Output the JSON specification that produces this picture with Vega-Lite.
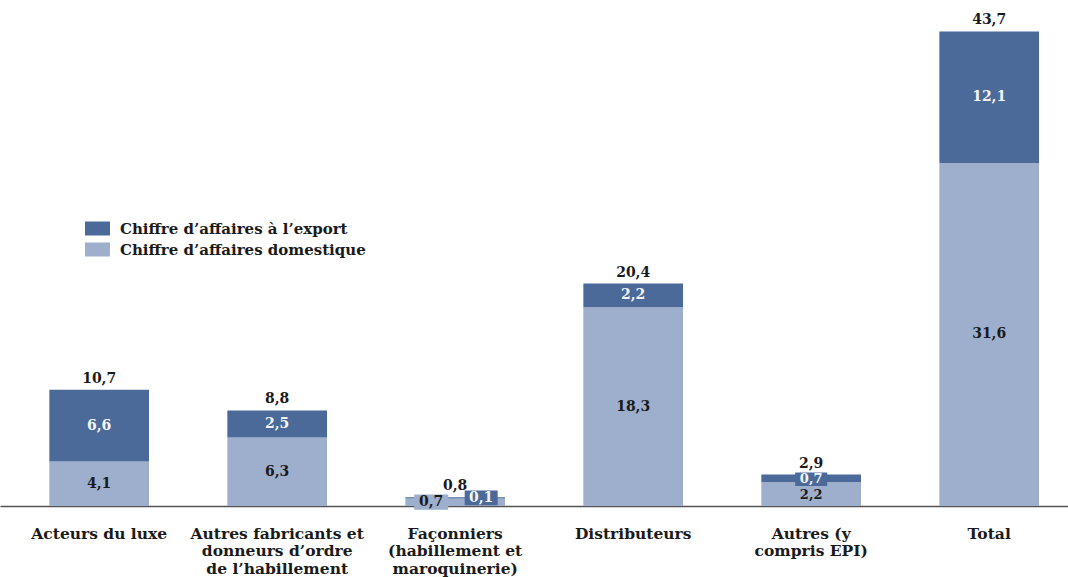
{
  "$schema": "https://vega.github.io/schema/vega-lite/v6.json",
  "width": 1068,
  "height": 506,
  "padding": 0,
  "autosize": {"type": "pad"},
  "background": "white",
  "config": {
    "view": {"stroke": null},
    "font": "DejaVu Serif",
    "locale": {"number": {"decimal": ",", "thousands": " ", "grouping": [3], "currency": ["", " €"]}}
  },
  "datasets": {
    "segments": [
      {"cat": "Acteurs du luxe", "type": "Chiffre d’affaires domestique", "value": 4.1},
      {"cat": "Acteurs du luxe", "type": "Chiffre d’affaires à l’export", "value": 6.6},
      {"cat": "Autres fabricants et|donneurs d’ordre|de l’habillement", "type": "Chiffre d’affaires domestique", "value": 6.3},
      {"cat": "Autres fabricants et|donneurs d’ordre|de l’habillement", "type": "Chiffre d’affaires à l’export", "value": 2.5},
      {"cat": "Façonniers|(habillement et|maroquinerie)", "type": "Chiffre d’affaires domestique", "value": 0.7},
      {"cat": "Façonniers|(habillement et|maroquinerie)", "type": "Chiffre d’affaires à l’export", "value": 0.1},
      {"cat": "Distributeurs", "type": "Chiffre d’affaires domestique", "value": 18.3},
      {"cat": "Distributeurs", "type": "Chiffre d’affaires à l’export", "value": 2.2},
      {"cat": "Autres (y|compris EPI)", "type": "Chiffre d’affaires domestique", "value": 2.2},
      {"cat": "Autres (y|compris EPI)", "type": "Chiffre d’affaires à l’export", "value": 0.7},
      {"cat": "Total", "type": "Chiffre d’affaires domestique", "value": 31.6},
      {"cat": "Total", "type": "Chiffre d’affaires à l’export", "value": 12.1}
    ],
    "totals": [
      {"cat": "Acteurs du luxe", "total": 10.7},
      {"cat": "Autres fabricants et|donneurs d’ordre|de l’habillement", "total": 8.8},
      {"cat": "Façonniers|(habillement et|maroquinerie)", "total": 0.8},
      {"cat": "Distributeurs", "total": 20.4},
      {"cat": "Autres (y|compris EPI)", "total": 2.9},
      {"cat": "Total", "total": 43.7}
    ]
  },
  "data": {"name": "segments"},
  "encoding": {
    "x": {
      "field": "cat",
      "type": "nominal",
      "sort": null,
      "title": null,
      "scale": {"paddingInner": 0.44, "paddingOuter": 0.22, "align": 0.63},
      "axis": {
        "labelExpr": "split(datum.value, '|')",
        "labelAngle": 0,
        "labelFont": "DejaVu Serif",
        "labelFontSize": 15.5,
        "labelFontWeight": "bold",
        "labelColor": "#1a1a1a",
        "labelLineHeight": 17.5,
        "labelPadding": 20,
        "labelBaseline": "top",
        "labelLimit": 0,
        "ticks": false,
        "domainColor": "#555555",
        "domainWidth": 1.5,
        "grid": false
      }
    }
  },
  "layer": [
    {
      "mark": {"type": "bar"},
      "encoding": {
        "y": {"field": "value", "type": "quantitative", "stack": "zero", "scale": {"domain": [0, 46.6], "nice": false}, "axis": null},
        "color": {
          "field": "type",
          "type": "nominal",
          "scale": {"domain": ["Chiffre d’affaires à l’export", "Chiffre d’affaires domestique"], "range": ["#4B6A9A", "#9DAFCD"]},
          "legend": {
            "orient": "none",
            "legendX": 85,
            "legendY": 216,
            "title": null,
            "symbolType": "M-1,-0.56H1V0.56H-1Z",
            "symbolSize": 625,
            "symbolStrokeWidth": 0,
            "symbolOpacity": 1,
            "labelFont": "DejaVu Serif",
            "labelFontSize": 15,
            "labelFontWeight": "bold",
            "labelColor": "#1a1a1a",
            "labelOffset": 10,
            "labelLimit": 0,
            "rowPadding": 0
          }
        },
        "order": {"field": "type", "sort": "ascending"}
      }
    },
    {
      "transform": [
        {"stack": "value", "groupby": ["cat"], "sort": [{"field": "type", "order": "ascending"}], "as": ["v0", "v1"]},
        {"calculate": "(datum.v0 + datum.v1) / 2", "as": "mid"},
        {"filter": "(datum.cat === 'Autres (y|compris EPI)' && indexof(datum.type, 'export') >= 0)"}
      ],
      "mark": {"type": "point", "shape": "M-1,-0.42H1V0.42H-1Z", "size": 1024, "filled": true, "opacity": 1, "color": "#4B6A9A", "yOffset": 1},
      "encoding": {"y": {"field": "mid", "type": "quantitative", "scale": {"domain": [0, 46.6], "nice": false}}}
    },
    {
      "transform": [
        {"stack": "value", "groupby": ["cat"], "sort": [{"field": "type", "order": "ascending"}], "as": ["v0", "v1"]},
        {"calculate": "(datum.v0 + datum.v1) / 2", "as": "mid"},
        {"filter": "(indexof(datum.cat, 'Façonniers') >= 0 && indexof(datum.type, 'export') >= 0)"}
      ],
      "mark": {"type": "point", "shape": "M-1,-0.45H1V0.45H-1Z", "size": 1089, "filled": true, "opacity": 1, "color": "#4B6A9A", "xOffset": 26},
      "encoding": {"y": {"field": "mid", "type": "quantitative", "scale": {"domain": [0, 46.6], "nice": false}}}
    },
    {
      "transform": [
        {"stack": "value", "groupby": ["cat"], "sort": [{"field": "type", "order": "ascending"}], "as": ["v0", "v1"]},
        {"calculate": "(datum.v0 + datum.v1) / 2", "as": "mid"},
        {"filter": "(indexof(datum.cat, 'Façonniers') >= 0 && indexof(datum.type, 'domestique') >= 0)"}
      ],
      "mark": {"type": "point", "shape": "M-1,-0.45H1V0.45H-1Z", "size": 1156, "filled": true, "opacity": 1, "color": "#9DAFCD", "xOffset": -24},
      "encoding": {"y": {"field": "mid", "type": "quantitative", "scale": {"domain": [0, 46.6], "nice": false}}}
    },
    {
      "transform": [
        {"stack": "value", "groupby": ["cat"], "sort": [{"field": "type", "order": "ascending"}], "as": ["v0", "v1"]},
        {"calculate": "(datum.v0 + datum.v1) / 2", "as": "mid"},
        {"filter": "indexof(datum.cat, 'Façonniers') < 0 && indexof(datum.cat, 'Autres (y') < 0"}
      ],
      "mark": {"type": "text", "fontWeight": "bold", "fontSize": 14, "font": "DejaVu Serif"},
      "encoding": {
        "y": {"field": "mid", "type": "quantitative", "scale": {"domain": [0, 46.6], "nice": false}},
        "text": {"field": "value", "type": "quantitative", "format": ".1f"},
        "color": {"condition": {"test": "indexof(datum.type, 'export') >= 0", "value": "#f4f4f4"}, "value": "#1a1a1a"}
      }
    },
    {
      "transform": [
        {"stack": "value", "groupby": ["cat"], "sort": [{"field": "type", "order": "ascending"}], "as": ["v0", "v1"]},
        {"calculate": "(datum.v0 + datum.v1) / 2", "as": "mid"},
        {"filter": "indexof(datum.cat, 'Autres (y') >= 0"}
      ],
      "mark": {"type": "text", "fontWeight": "bold", "fontSize": 13, "font": "DejaVu Serif", "dy": 1},
      "encoding": {
        "y": {"field": "mid", "type": "quantitative", "scale": {"domain": [0, 46.6], "nice": false}},
        "text": {"field": "value", "type": "quantitative", "format": ".1f"},
        "color": {"condition": {"test": "indexof(datum.type, 'export') >= 0", "value": "#f4f4f4"}, "value": "#1a1a1a"}
      }
    },
    {
      "transform": [
        {"stack": "value", "groupby": ["cat"], "sort": [{"field": "type", "order": "ascending"}], "as": ["v0", "v1"]},
        {"calculate": "(datum.v0 + datum.v1) / 2", "as": "mid"},
        {"filter": "(indexof(datum.cat, 'Façonniers') >= 0 && indexof(datum.type, 'export') >= 0)"}
      ],
      "mark": {"type": "text", "fontWeight": "bold", "fontSize": 14, "font": "DejaVu Serif", "dx": 26, "color": "#f4f4f4"},
      "encoding": {
        "y": {"field": "mid", "type": "quantitative", "scale": {"domain": [0, 46.6], "nice": false}},
        "text": {"field": "value", "type": "quantitative", "format": ".1f"}
      }
    },
    {
      "transform": [
        {"stack": "value", "groupby": ["cat"], "sort": [{"field": "type", "order": "ascending"}], "as": ["v0", "v1"]},
        {"calculate": "(datum.v0 + datum.v1) / 2", "as": "mid"},
        {"filter": "(indexof(datum.cat, 'Façonniers') >= 0 && indexof(datum.type, 'domestique') >= 0)"}
      ],
      "mark": {"type": "text", "fontWeight": "bold", "fontSize": 14, "font": "DejaVu Serif", "dx": -24, "color": "#1a1a1a"},
      "encoding": {
        "y": {"field": "mid", "type": "quantitative", "scale": {"domain": [0, 46.6], "nice": false}},
        "text": {"field": "value", "type": "quantitative", "format": ".1f"}
      }
    },
    {
      "data": {"name": "totals"},
      "mark": {"type": "text", "fontWeight": "bold", "fontSize": 14, "font": "DejaVu Serif", "baseline": "bottom", "dy": -4, "color": "#1a1a1a"},
      "encoding": {
        "y": {"field": "total", "type": "quantitative", "scale": {"domain": [0, 46.6], "nice": false}},
        "text": {"field": "total", "type": "quantitative", "format": ".1f"}
      }
    }
  ]
}
